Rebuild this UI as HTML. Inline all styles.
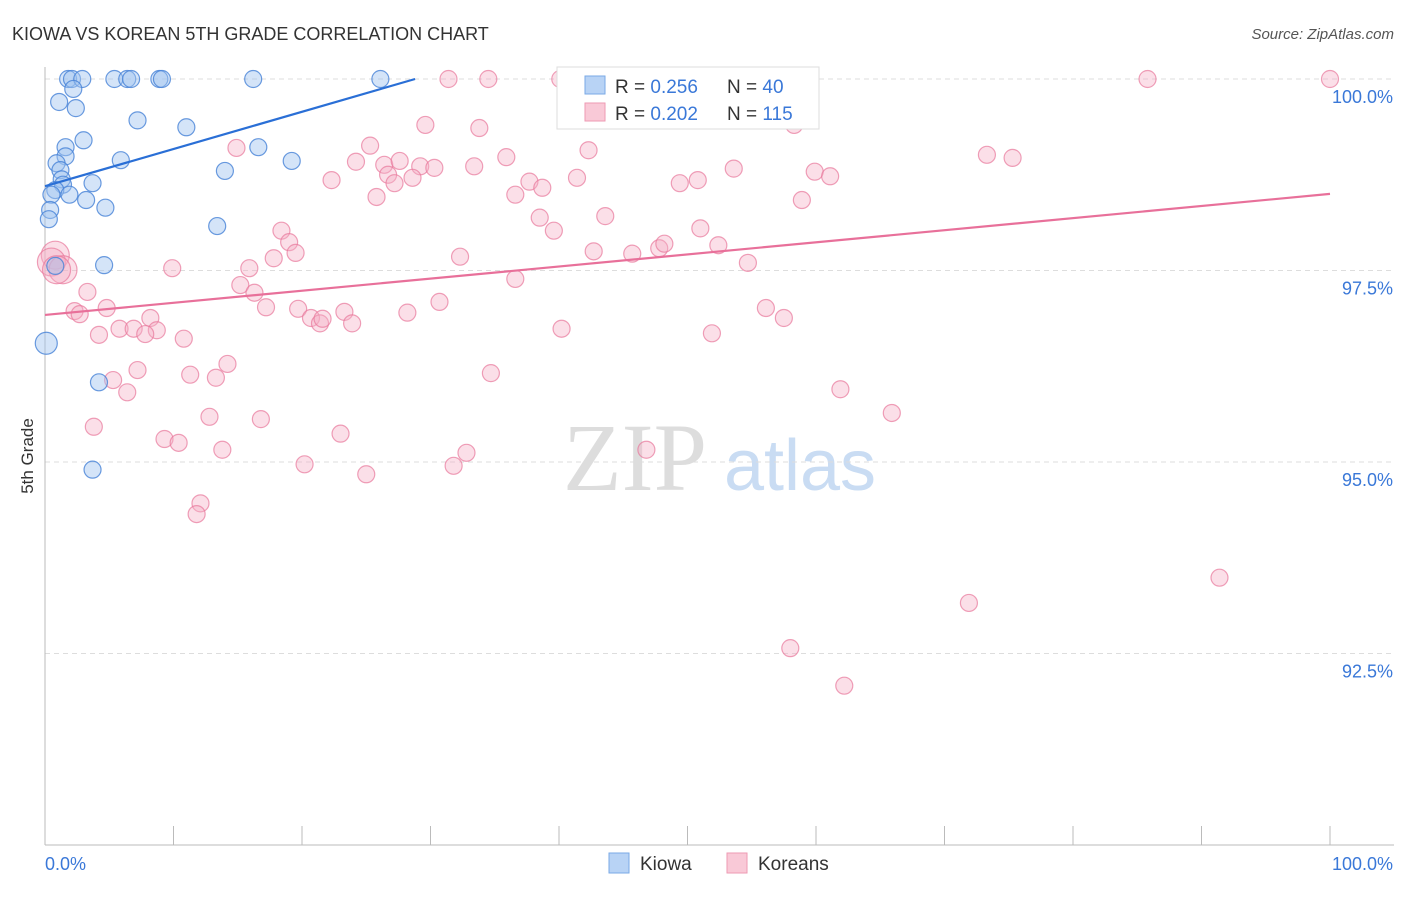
<!DOCTYPE html>
<html><head><meta charset="utf-8"><style>
body{margin:0;background:#fff;font-family:"Liberation Sans",sans-serif}
</style></head><body>
<svg id="c" width="1406" height="892" xmlns="http://www.w3.org/2000/svg">
<text x="12" y="40" font-size="18" fill="#333">KIOWA VS KOREAN 5TH GRADE CORRELATION CHART</text>
<text x="1394" y="39" font-size="15" fill="#555" text-anchor="end" font-style="italic">Source: ZipAtlas.com</text>
<text x="33" y="456" font-size="17" fill="#333" text-anchor="middle" transform="rotate(-90 33 456)">5th Grade</text>
<g>
<text x="635" y="490" font-size="96" fill="#ddd" text-anchor="middle" font-family="Liberation Serif,serif">ZIP</text>
<text x="800" y="490" font-size="72" fill="#c9dcf3" text-anchor="middle">atlas</text></g>
<g id="grid"></g><g id="axes"></g><g id="pts"></g><g id="trend"></g>
<g>
<rect x="557" y="67" width="262" height="62" fill="#fff" stroke="#ddd"/>
<rect x="585" y="76" width="20" height="18" fill="#b8d3f5" stroke="#7aa9e6"/>
<rect x="585" y="103" width="20" height="18" fill="#f9c9d7" stroke="#ee9ab3"/>
<text x="615" y="93" font-size="19" fill="#333">R = <tspan fill="#3a78d8">0.256</tspan><tspan x="727">N = </tspan><tspan fill="#3a78d8">40</tspan></text>
<text x="615" y="120" font-size="19" fill="#333">R = <tspan fill="#3a78d8">0.202</tspan><tspan x="727">N = </tspan><tspan fill="#3a78d8">115</tspan></text>
</g>
<g>
<rect x="609" y="853" width="20" height="20" fill="#b8d3f5" stroke="#7aa9e6"/>
<text x="640" y="870" font-size="19" fill="#333">Kiowa</text>
<rect x="727" y="853" width="20" height="20" fill="#f9c9d7" stroke="#ee9ab3"/>
<text x="758" y="870" font-size="19" fill="#333">Koreans</text>
</g>
</svg>
<script>
const yTicks=[100,97.5,95,92.5];
const yTickLabels=["100.0%","97.5%","95.0%","92.5%"];
const kiowaX=[1.8,2.1,2.9,5.4,6.4,6.7,8.9,9.1,16.2,26.1,2.2,1.1,2.4,7.2,11.0,3.0,1.6,1.6,5.9,16.6,19.2,0.9,1.2,14.0,1.3,3.7,1.4,0.8,0.5,1.9,3.2,4.7,0.4,0.3,13.4,4.6,0.8,0.1,4.2,3.7];
const kiowaY=[100,100,100,100,100,100,100,100,100,100,99.87,99.70,99.62,99.46,99.37,99.20,99.11,98.99,98.94,99.11,98.93,98.90,98.81,98.80,98.69,98.64,98.62,98.55,98.49,98.49,98.42,98.32,98.29,98.17,98.08,97.57,97.56,96.55,96.04,94.90];
const koreaX=[31.4,34.5,40.1,40.7,48.8,56.4,85.8,100,58.3,29.6,33.8,25.3,14.9,42.3,35.9,73.3,75.3,24.2,26.4,27.6,29.2,30.3,33.4,26.7,27.2,28.6,22.3,37.7,38.7,36.6,41.4,49.4,50.8,53.6,59.9,61.1,58.9,25.8,38.5,39.6,43.6,51.0,18.4,19.0,19.5,17.8,15.9,9.9,32.3,42.7,45.7,47.8,48.2,52.4,54.7,36.6,15.2,16.3,3.3,30.7,4.8,2.3,2.7,17.2,19.7,20.7,21.4,21.6,23.3,23.9,28.2,8.2,5.8,6.9,8.7,7.8,4.2,10.8,14.2,40.2,51.9,56.1,57.5,7.2,5.3,11.3,13.3,6.4,34.7,61.9,65.9,12.8,16.8,3.8,9.3,10.4,23.0,13.8,32.8,46.8,20.2,31.8,25.0,12.1,11.8,91.4,71.9,58.0,62.2,0.8,0.5,1.4,0.9];
const koreaY=[100,100,100,100,100,100,100,100,99.40,99.40,99.36,99.13,99.10,99.07,98.98,99.01,98.97,98.92,98.88,98.93,98.86,98.84,98.86,98.75,98.64,98.71,98.68,98.66,98.58,98.49,98.71,98.64,98.68,98.83,98.79,98.73,98.42,98.46,98.19,98.02,98.21,98.05,98.02,97.87,97.73,97.66,97.53,97.53,97.68,97.75,97.72,97.79,97.85,97.83,97.60,97.39,97.31,97.21,97.22,97.09,97.01,96.97,96.93,97.02,97.00,96.88,96.81,96.87,96.96,96.81,96.95,96.88,96.74,96.74,96.72,96.67,96.66,96.61,96.28,96.74,96.68,97.01,96.88,96.20,96.07,96.14,96.10,95.91,96.16,95.95,95.64,95.59,95.56,95.46,95.30,95.25,95.37,95.16,95.12,95.16,94.97,94.95,94.84,94.46,94.32,93.49,93.16,92.57,92.08,97.70,97.61,97.51,97.51];
const kiowaTrend=[[0,98.60],[28.8,100]];
const koreaTrend=[[0,96.92],[100,98.50]];
const X0=45,X1=1330,YT=79,YB=845;
const sx=v=>X0+(X1-X0)*v/100;
const sy=v=>YT+(100-v)*(YB-YT)/10;
const NS="http://www.w3.org/2000/svg";
function mk(p,t,a){const e=document.createElementNS(NS,t);for(const k in a)e.setAttribute(k,a[k]);p.appendChild(e);return e;}
const grid=document.getElementById('grid'),axes=document.getElementById('axes'),pts=document.getElementById('pts'),tr=document.getElementById('trend');
yTicks.forEach((t,i)=>{
 const l=mk(grid,'line',{x1:X0,x2:1394,y1:sy(t),y2:sy(t),stroke:'#ddd','stroke-dasharray':'5,4'});
 
 
 const tx=mk(grid,'text',{x:1393,y:sy(t)+24,'font-size':18,fill:'#3a78d8','text-anchor':'end'});
 tx.textContent=yTickLabels[i];
 
 
});
let a=mk(axes,'line',{x1:X0,x2:X0,y1:67,y2:YB,stroke:'#bbb'});


a=mk(axes,'line',{x1:X0,x2:1394,y1:YB,y2:YB,stroke:'#bbb'});


for(let i=0;i<=10;i++){const t=mk(axes,'line',{x1:sx(i*10),x2:sx(i*10),y1:YB-19,y2:YB,stroke:'#bbb'});
 
 }
let xl=mk(axes,'text',{x:45,y:870,'font-size':18,fill:'#3a78d8'});xl.textContent='0.0%';


xl=mk(axes,'text',{x:1393,y:870,'font-size':18,fill:'#3a78d8','text-anchor':'end'});xl.textContent='100.0%';


koreaX.forEach((x,i)=>{const big=(x<1.5&&koreaY[i]>97.4);
 const c=mk(pts,'circle',{cx:sx(x),cy:sy(koreaY[i]),r:big?14:8.5,fill:'rgba(246,176,198,0.4)',stroke:'rgba(232,120,155,0.7)','stroke-width':1.2});
 
 });
kiowaX.forEach((x,i)=>{const big=(x<0.2);
 const c=mk(pts,'circle',{cx:sx(x),cy:sy(kiowaY[i]),r:big?11:8.5,fill:'rgba(160,196,240,0.45)',stroke:'rgba(70,130,215,0.8)','stroke-width':1.2});
 
 });
let t1=mk(tr,'line',{x1:sx(kiowaTrend[0][0]),y1:sy(kiowaTrend[0][1]),x2:sx(kiowaTrend[1][0]),y2:sy(kiowaTrend[1][1]),stroke:'#2a6fd6','stroke-width':2.2});


let t2=mk(tr,'line',{x1:sx(koreaTrend[0][0]),y1:sy(koreaTrend[0][1]),x2:sx(koreaTrend[1][0]),y2:sy(koreaTrend[1][1]),stroke:'#e8709a','stroke-width':2.2});


</script>
</body></html>
